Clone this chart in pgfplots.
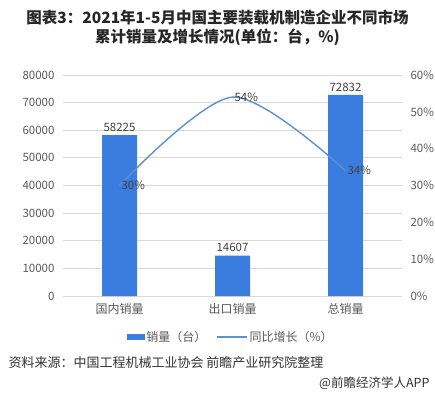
\documentclass[border=0pt]{standalone}
\usepackage{fontspec}
\setmainfont{Noto Sans CJK SC}
\usepackage{pgfplots}
\pgfplotsset{compat=1.18}
\definecolor{barblue}{RGB}{58,125,222}
\definecolor{lineblue}{RGB}{91,143,214}
\definecolor{ticktext}{RGB}{89,89,89}
\definecolor{labeltext}{RGB}{64,64,64}
\definecolor{gridc}{RGB}{217,217,217}
\begin{document}
\begin{tikzpicture}[x=1pt,y=1pt]
\path[use as bounding box] (0,0) rectangle (435,397);
\node[font=\fontsize{15.5}{19}\selectfont\bfseries, text=black!85, align=center] at (217.5,369.5) {图表3：2021年1-5月中国主要装载机制造企业不同市场\\累计销量及增长情况(单位：台，\%)};
\begin{axis}[
  at={(63pt,101pt)}, anchor=south west, scale only axis,
  width=339pt, height=221pt,
  xmin=-0.5, xmax=2.5, ymin=0, ymax=80000,
  ytick={0,10000,...,80000},
  xtick={0,1,2}, xticklabels={国内销量,出口销量,总销量},
  ymajorgrids, grid style={gridc, line width=0.8pt},
  axis line style={draw=none},
  major tick length=0pt,
  /pgf/number format/assume math mode=true,
  /pgf/number format/fixed, /pgf/number format/1000 sep={},
  scaled y ticks=false,
  yticklabel style={font=\fontsize{11.5}{13}\selectfont, text=ticktext, xshift=-5pt},
  xticklabel style={font=\fontsize{12}{14}\selectfont, text=ticktext, yshift=-4pt},
  clip=false,
]
\addplot[ybar, bar width=35pt, fill=barblue, draw=none,
  nodes near coords,
  nodes near coords style={font=\fontsize{11.5}{13}\selectfont, text=labeltext, /pgf/number format/assume math mode=true, /pgf/number format/1000 sep={}}]
  coordinates {(0,58225) (1,14607) (2,72832)};
\end{axis}
\begin{axis}[
  at={(63pt,101pt)}, anchor=south west, scale only axis,
  width=339pt, height=221pt,
  xmin=-0.5, xmax=2.5, ymin=0, ymax=60,
  axis x line=none, axis y line*=right,
  axis line style={draw=none},
  major tick length=0pt,
  ytick={0,10,...,60},
  yticklabel={\pgfmathprintnumber{\tick}\%},
  /pgf/number format/assume math mode=true,
  yticklabel style={font=\fontsize{11.5}{13}\selectfont, text=ticktext, xshift=5pt},
  clip=false,
  legend style={at={(0.495,-0.186)}, anchor=center, draw=none, fill=none,
    font=\fontsize{12}{14}\selectfont, text=ticktext, legend columns=2,
    /tikz/every even column/.append style={column sep=8pt}},
]
\addlegendimage{legend image code/.code={\fill[barblue] (0pt,-2.5pt) rectangle (17pt,2.5pt);}}
\addlegendentry{销量（台）}
\addplot[lineblue, line width=1.4pt, smooth,
  nodes near coords={\pgfmathprintnumber{\pgfplotspointmeta}\%},
  nodes near coords style={font=\fontsize{11.5}{13}\selectfont, text=labeltext, anchor=west, xshift=-2pt, /pgf/number format/assume math mode=true},
  legend image code/.code={\draw[lineblue, line width=1.4pt] (0pt,0pt) -- (30pt,0pt);}]
  coordinates {(0,30) (1,54) (2,34)};
\addlegendentry{同比增长（\%）}
\end{axis}
\node[anchor=west, font=\fontsize{13}{15}\selectfont, text=black!80] at (5,34) {资料来源：中国工程机械工业协会 前瞻产业研究院整理};
\node[anchor=east, font=\fontsize{12.5}{15}\selectfont, text=black!80] at (433,14) {@前瞻经济学人APP};
\end{tikzpicture}
\end{document}
